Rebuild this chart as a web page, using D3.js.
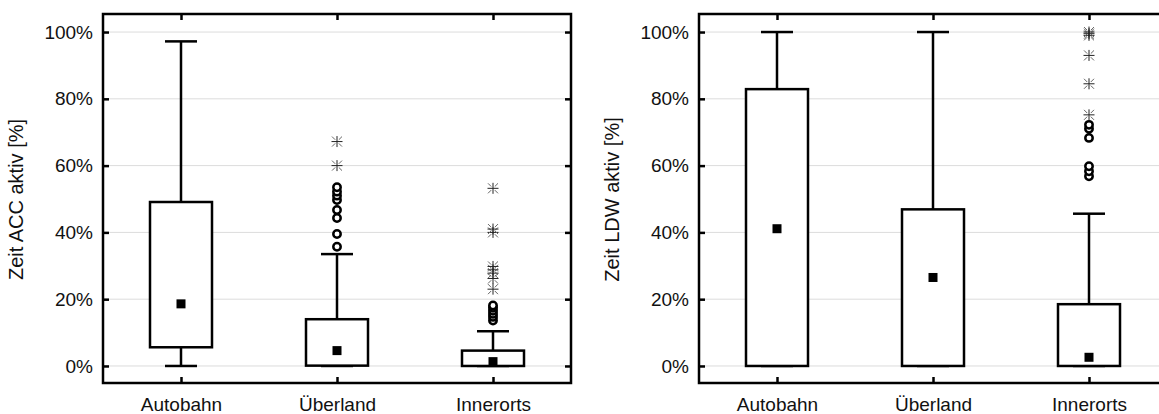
<!DOCTYPE html>
<html>
<head>
<meta charset="utf-8">
<script src="https://cdn.jsdelivr.net/npm/d3@7"></script>
<style>
  body { margin: 0; background: #fff; }
  svg { display: block; }
  text { font-family: "Liberation Sans", Arial, sans-serif; fill: #111; }
</style>
</head>
<body>
<svg width="1159" height="414"></svg>
<script>
// categories and tick labels
const categories = ["Autobahn", "Überland", "Innerorts"];
const yTicks = [0, 20, 40, 60, 80, 100];

// Zeit ACC aktiv [%]
const accWhiskerLow = [0, 0, 0];
const accQ1 = [5.6, 0.1, 0];
const accQ3 = [49.1, 14.0, 4.6];
const accWhiskerHigh = [97.2, 33.5, 10.4];
const accMean = [18.6, 4.6, 1.3];
const accOutliers = [[], [35.7, 39.5, 44.3, 46.7, 49.7, 51.0, 52.2, 53.5], [13.6, 14.7, 15.6, 16.5, 17.4, 18.1]];
const accExtremes = [[], [60.0, 67.2], [23.0, 26.2, 27.8, 28.8, 29.8, 40.0, 41.0, 53.2]];

// Zeit LDW aktiv [%]
const ldwWhiskerLow = [0, 0, 0];
const ldwQ1 = [0, 0, 0];
const ldwQ3 = [82.9, 46.9, 18.5];
const ldwWhiskerHigh = [100, 100, 45.6];
const ldwMean = [41.1, 26.5, 2.6];
const ldwOutliers = [[], [], [56.8, 58.3, 59.8, 68.3, 71.0, 72.2]];
const ldwExtremes = [[], [], [75.2, 84.5, 93.0, 99.0, 99.5, 100]];

const svg = d3.select("svg");
const plotTop = 14, plotBottom = 383;
const boxWidth = 62, capWidth = 32, tickLen = 6;
const fontSize = 19, lineW = 2.5;

function drawPanel(left, right, label, wl, q1, q3, wh, mean, outliers, extremes) {
    const g = svg.append("g");

    const xScale = d3.scalePoint()
        .domain(categories)
        .range([left, right])
        .padding(0.5);

    const yScale = d3.scaleLinear()
        .domain([-5.1, 105.4])
        .range([plotBottom, plotTop]);

    // grid lines
    g.append("g")
        .selectAll("line")
        .data(yTicks)
        .join("line")
        .attr("x1", left)
        .attr("x2", right)
        .attr("y1", d => yScale(d))
        .attr("y2", d => yScale(d))
        .attr("stroke", "#dcdcdc")
        .attr("stroke-width", 1);

    // axes with inward ticks
    g.append("g")
        .attr("transform", `translate(${left},0)`)
        .call(d3.axisLeft(yScale).tickValues(yTicks).tickSizeInner(-tickLen).tickSizeOuter(0)
            .tickPadding(10).tickFormat(d => d + "%"))
        .call(a => a.select(".domain").remove())
        .call(a => a.selectAll("line").attr("stroke", "#000").attr("stroke-width", lineW))
        .call(a => a.selectAll("text").attr("font-size", fontSize).attr("fill", "#111")
            .attr("font-family", "'Liberation Sans', Arial, sans-serif"));

    g.append("g")
        .attr("transform", `translate(${right},0)`)
        .call(d3.axisRight(yScale).tickValues(yTicks).tickSizeInner(-tickLen).tickSizeOuter(0).tickFormat(""))
        .call(a => a.select(".domain").remove())
        .call(a => a.selectAll("line").attr("stroke", "#000").attr("stroke-width", lineW));

    g.append("g")
        .attr("transform", `translate(0,${plotBottom})`)
        .call(d3.axisBottom(xScale).tickSizeInner(-tickLen).tickSizeOuter(0).tickPadding(15))
        .call(a => a.select(".domain").remove())
        .call(a => a.selectAll("line").attr("stroke", "#000").attr("stroke-width", lineW))
        .call(a => a.selectAll("text").attr("font-size", fontSize).attr("fill", "#111")
            .attr("font-family", "'Liberation Sans', Arial, sans-serif"));

    g.append("g")
        .attr("transform", `translate(0,${plotTop})`)
        .call(d3.axisTop(xScale).tickSizeInner(-tickLen).tickSizeOuter(0).tickFormat(""))
        .call(a => a.select(".domain").remove())
        .call(a => a.selectAll("line").attr("stroke", "#000").attr("stroke-width", lineW));

    // frame
    g.append("rect")
        .attr("x", left)
        .attr("y", plotTop)
        .attr("width", right - left)
        .attr("height", plotBottom - plotTop)
        .attr("fill", "none")
        .attr("stroke", "#000")
        .attr("stroke-width", lineW);

    // y label
    g.append("text")
        .attr("transform", `translate(${left - 80},${(plotTop + plotBottom) / 2 + 1}) rotate(-90)`)
        .attr("text-anchor", "middle")
        .attr("font-size", 20)
        .text(label);

    categories.forEach((c, i) => {
        const x = xScale(c);

        // whiskers
        g.append("line")
            .attr("x1", x).attr("x2", x)
            .attr("y1", yScale(wl[i])).attr("y2", yScale(q1[i]))
            .attr("stroke", "#000").attr("stroke-width", lineW);
        g.append("line")
            .attr("x1", x).attr("x2", x)
            .attr("y1", yScale(q3[i])).attr("y2", yScale(wh[i]))
            .attr("stroke", "#000").attr("stroke-width", lineW);
        [wl[i], wh[i]].forEach(v => {
            g.append("line")
                .attr("x1", x - capWidth / 2).attr("x2", x + capWidth / 2)
                .attr("y1", yScale(v)).attr("y2", yScale(v))
                .attr("stroke", "#000").attr("stroke-width", lineW);
        });

        // box
        g.append("rect")
            .attr("x", x - boxWidth / 2)
            .attr("y", yScale(q3[i]))
            .attr("width", boxWidth)
            .attr("height", yScale(q1[i]) - yScale(q3[i]))
            .attr("fill", "#fff")
            .attr("stroke", "#000")
            .attr("stroke-width", lineW);

        // mean
        g.append("rect")
            .attr("x", x - 4.5)
            .attr("y", yScale(mean[i]) - 4.5)
            .attr("width", 9)
            .attr("height", 9)
            .attr("fill", "#000");

        // outliers
        g.append("g")
            .selectAll("circle")
            .data(outliers[i])
            .join("circle")
            .attr("cx", x)
            .attr("cy", d => yScale(d))
            .attr("r", 3.7)
            .attr("fill", "#fff")
            .attr("stroke", "#000")
            .attr("stroke-width", 2.5);

        // extremes
        const star = g.append("g")
            .selectAll("g")
            .data(extremes[i])
            .join("g")
            .attr("transform", d => `translate(${x},${yScale(d)})`);
        star.append("path")
            .attr("d", "M-5.5,0H5.5M0,-5.5V5.5")
            .attr("stroke", "#222")
            .attr("stroke-width", 1);
        star.append("path")
            .attr("d", "M-5,-5L-1.8,-1.8M5,-5L1.8,-1.8M-5,5L-1.8,1.8M5,5L1.8,1.8")
            .attr("stroke", "#666")
            .attr("stroke-width", 1);
    });
}

drawPanel(103, 571, "Zeit ACC aktiv [%]", accWhiskerLow, accQ1, accQ3, accWhiskerHigh, accMean, accOutliers, accExtremes);
drawPanel(699, 1167, "Zeit LDW aktiv [%]", ldwWhiskerLow, ldwQ1, ldwQ3, ldwWhiskerHigh, ldwMean, ldwOutliers, ldwExtremes);
</script>
</body>
</html>
